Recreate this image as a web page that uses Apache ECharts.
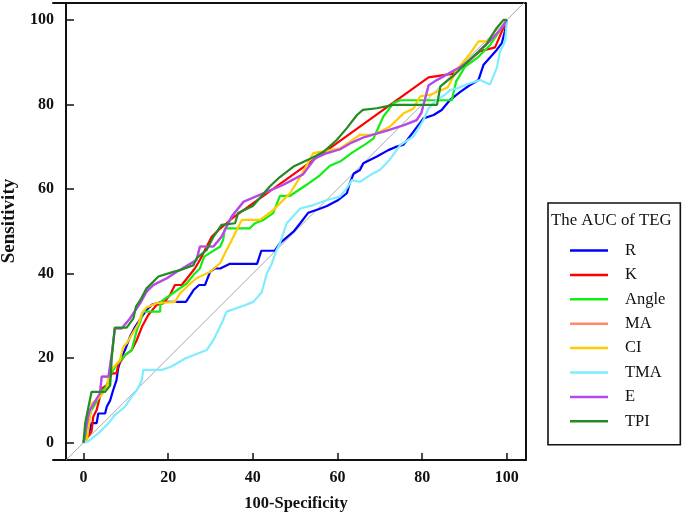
<!DOCTYPE html>
<html>
<head>
<meta charset="utf-8">
<script src="https://cdn.jsdelivr.net/npm/echarts@6/dist/echarts.min.js"></script>
<style>
html,body{margin:0;padding:0;background:#fff;}
#chart{width:684px;height:514px;}
</style>
</head>
<body>
<div id="chart"></div>
<script>
const seriesNames = ['R', 'K', 'Angle', 'MA', 'CI', 'TMA', 'E', 'TPI'];
const xTicks = [0, 20, 40, 60, 80, 100];
const yTicks = [0, 20, 40, 60, 80, 100];
const diagonal = [[-4.1, -4.1], [104.3, 104.3]];

const R = [[0,0],[1.5,3],[1.9,4.6],[3.1,4.6],[3.5,6.9],[5.1,6.9],[5.5,8.5],[6.3,10],[7,12.4],[7.8,14.8],[8.2,17.6],[9,20.3],[9.8,21.9],[11,25.1],[12.2,27.4],[13.8,29.8],[14.9,31.4],[16.1,32.6],[18.5,33.3],[24.2,33.3],[26,36.1],[27.3,37.3],[28.7,37.3],[29.9,40.4],[31,41.2],[32.3,41.2],[34.6,42.3],[41,42.3],[42,45.4],[45.2,45.4],[46.4,47.2],[49.6,49.9],[51.2,51.9],[53.1,54.4],[55.5,55.2],[57.5,56],[60.2,57.4],[62.2,59],[62.9,61.4],[63.8,63.6],[65.3,64.5],[66.1,66.1],[69.3,67.7],[72,69.2],[73.6,69.9],[75.6,70.5],[77.9,73.5],[80.3,76.7],[82.7,77.5],[84.6,78.7],[86.6,81.1],[89,83],[91.3,84.6],[93.3,85.8],[94.5,89.4],[97.6,92.9],[98.8,94.5],[99.6,97.6],[100,100]];
const K = [[0,0],[1.9,2.6],[2.3,6.1],[3.1,7.7],[3.9,10.9],[4.3,12.8],[5.5,13.6],[6.7,16.4],[7.8,16.4],[8.2,18.4],[9.8,20.7],[11.4,21.9],[12.6,24.3],[13.8,27.4],[15.3,30.2],[17.3,32.6],[18.9,33],[20.4,34.9],[21.6,37.3],[23.2,37.3],[24.8,39.3],[26.3,41.2],[27.5,43.2],[29.1,46.4],[30.3,48.7],[31.9,50.3],[33.8,51.9],[35,53],[81.5,86.4],[87.4,87.3],[93.7,92.6],[97.2,93.5],[100,100]];
const Angle = [[0,0],[0.4,0.6],[0.9,4.6],[1.9,7.7],[4.7,12.4],[5.9,14],[6.3,16],[7.8,18.4],[9.8,20.7],[11.4,21.9],[12.6,26.6],[13.4,28.6],[14.1,31],[18.1,31],[18.2,33.3],[21.6,35.7],[24.4,37.7],[26,39.7],[27.5,41.2],[28.5,44],[32.3,46.4],[33,48],[33.4,50.7],[39.3,50.7],[40.5,51.9],[42.5,52.7],[44.8,54.3],[46.4,58.4],[48.8,58.4],[52.7,61],[55.9,63.3],[58.2,65.5],[60.6,66.5],[63.3,68.5],[66.9,70.8],[68.5,72],[70.8,77.1],[73.2,80.3],[74.8,81],[87,81],[88,85.4],[90.1,88.9],[93,91],[96,94],[98,97],[100,100]];
const MA = [[0,0],[1.1,6.1],[1.5,7.7],[3.9,11.7],[4.3,15.6],[5.9,15.6],[6.7,21.1],[7.4,27],[9,27],[11,29.4],[13.4,33],[14.9,35.7],[16.5,37.3],[19.7,38.9],[22,40.4],[26.7,43.2],[27.5,46.4],[30.7,46.4],[32.6,48.7],[33.8,51.1],[35,53.5],[37.8,57],[42.5,59],[47.2,61],[51.9,63.5],[54.7,67.3],[57.5,68.5],[60.6,69.4],[63,70.8],[66.1,72.2],[71.6,73.8],[75.6,75.1],[78.7,76.3],[79.8,78],[81.5,84.5],[83.5,85.8],[85,86.6],[89,88.9],[91.3,90.5],[93.7,92.9],[96,95],[98.4,97.6],[100,100]];
const CI = [[0,0],[0.8,0.6],[1.5,5.7],[1.9,9.3],[3.5,10.5],[4.3,11.3],[5.5,12.8],[5.9,15.6],[6.7,17.4],[8.6,19.5],[9.4,22.7],[10.2,23.5],[11.8,26.2],[13,28.2],[13.8,30.6],[14.9,32],[17.3,33],[21.6,33.3],[22.8,35.3],[24.4,36.9],[26.7,38.9],[29.9,40.4],[32.3,42.5],[33.8,45.6],[35,47.9],[36.2,50.3],[37.4,52.7],[41.7,52.7],[44.8,55],[48.8,59],[51.2,62.9],[54.3,68.5],[60.6,69.6],[65.3,72.8],[68.5,72.8],[72.4,74.8],[75.6,77.9],[77.9,79],[79.5,81.9],[81.9,82.3],[86,84],[88.2,88.2],[91.3,92],[93.3,94.9],[96,94.9],[97,96],[100,100]];
const TMA = [[0,0],[1.1,0.3],[3.5,2.2],[5.9,4.6],[7.4,6.5],[9.8,8.5],[11.4,10.9],[12.6,12.4],[13.8,14.8],[14.1,17.2],[18.5,17.2],[20.8,18],[24,19.9],[29.1,21.9],[30.7,24.3],[32.6,28.2],[33.8,31],[37.8,32.4],[40.1,33.3],[42.1,35.6],[43.3,40],[44.5,42.4],[45.6,45.6],[46.4,47.2],[48,51.9],[51.2,55.4],[54.3,56.2],[57.5,57.4],[60.6,58.2],[62.2,60.2],[63.4,62.1],[65.3,61.7],[67.7,63.3],[70,64.5],[72.2,66.8],[74.8,70.4],[77.9,72.4],[80.3,76.3],[81.5,79.1],[83.5,81.1],[85.4,82.3],[86.6,83.4],[88.2,83.8],[91.3,85],[93.7,85.8],[96,84.7],[97.6,88.6],[98.4,92.6],[99.6,95],[100,100]];
const E = [[0,0],[1.1,6.1],[1.5,7.7],[3.9,11.7],[4.3,15.6],[5.9,15.6],[6.7,21.1],[7.4,27],[9,27],[11,29.4],[13.4,33],[14.9,35.7],[16.5,37.3],[19.7,38.9],[22,40.4],[26.7,43.2],[27.5,46.4],[30.7,46.4],[32.6,48.7],[33.8,51.1],[35,53.5],[37.8,57],[42.5,59],[47.2,61],[51.9,63.5],[54.7,67.3],[57.5,68.5],[60.6,69.4],[63,70.8],[66.1,72.2],[71.6,73.8],[75.6,75.1],[78.7,76.3],[79.8,78],[81.5,84.5],[83.5,85.8],[85,86.6],[89,88.9],[91.3,90.5],[93.7,92.9],[96,95],[98.4,97.6],[100,100]];
const TPI = [[0,0],[0.4,4.6],[1.1,8.1],[1.9,12],[5.1,12],[6.3,13.5],[6.7,20.3],[7.4,27.2],[10.2,27.2],[11.8,29.4],[12.4,32.2],[13.4,33.7],[14.9,36.5],[17.7,39.3],[21.2,40.4],[22.8,40.8],[26,42],[26.7,43.6],[29.1,45.6],[30.7,48.7],[32.6,51.5],[35.8,51.9],[36.5,54.3],[40,56],[44,60.6],[46,62.5],[49.6,65.3],[54.3,67.5],[56.7,68.8],[59.8,71.6],[62.2,74.4],[64.6,77.5],[66,78.7],[69.3,79.1],[73.2,79.9],[83.5,79.9],[84.3,84.3],[87.4,86.8],[92.1,91.4],[95,94],[97.6,98.1],[99.2,100],[100,100]];

const seriesData = [R, K, Angle, MA, CI, TMA, E, TPI];
const seriesColors = ['#0000ff', '#ff0000', '#11ee11', '#ff8a6a', '#ffcc00', '#80ecff', '#b048f8', '#228b22'];

const FONT = 'Liberation Serif';
const chart = echarts.init(document.getElementById('chart'), null, {renderer: 'canvas'});

const lineSeries = seriesNames.map((name, i) => ({
  name: name,
  type: 'line',
  data: seriesData[i],
  color: seriesColors[i],
  showSymbol: false,
  symbol: 'none',
  lineStyle: {width: 2.2, color: seriesColors[i]},
  animation: false,
  z: 3 + i
}));

const option = {
  backgroundColor: '#ffffff',
  animation: false,
  title: {
    text: 'The AUC of TEG',
    left: 551,
    top: 212,
    padding: 0,
    textStyle: {fontFamily: FONT, fontWeight: 'normal', fontSize: 16.8, color: '#111'}
  },
  legend: {
    data: seriesNames,
    orient: 'vertical',
    left: 548,
    top: 203,
    icon: 'rect',
    itemWidth: 38,
    itemHeight: 2.5,
    itemGap: 7.4,
    padding: [39, 15, 15, 22],
    borderColor: '#111',
    borderWidth: 1.6,
    backgroundColor: 'transparent',
    textStyle: {fontFamily: FONT, fontSize: 16.5, color: '#111', lineHeight: 16, padding: [0, 0, 0, 12]}
  },
  grid: {left: 53, right: 158.5, top: 3, bottom: 54, containLabel: false, outerBoundsMode: 'none'},
  xAxis: [{
    type: 'value',
    min: -7.2,
    max: 104.4,
    name: '100-Specificity',
    nameLocation: 'middle',
    nameGap: 35,
    nameTextStyle: {fontFamily: FONT, fontWeight: 'bold', fontSize: 16.5, color: '#111', padding: [0, 0, 0, 13.5]},
    axisLine: {onZero: false, lineStyle: {color: '#111', width: 2}},
    axisTick: {inside: true, length: 7, lineStyle: {color: '#111', width: 1.5}, customValues: xTicks},
    axisLabel: {margin: 10, fontFamily: FONT, fontWeight: 'bold', fontSize: 16, color: '#111', customValues: xTicks},
    splitLine: {show: false}
  }, {
    type: 'value',
    position: 'top',
    min: -7.2,
    max: 104.4,
    axisLine: {onZero: false, lineStyle: {color: '#111', width: 2}},
    axisTick: {show: false},
    axisLabel: {show: false},
    splitLine: {show: false}
  }],
  yAxis: [{
    type: 'value',
    min: -4.1,
    max: 104,
    offset: -13,
    name: 'Sensitivity',
    nameLocation: 'middle',
    nameGap: 47,
    nameTextStyle: {fontFamily: FONT, fontWeight: 'bold', fontSize: 19, color: '#111', padding: [0, 0, 0, 21]},
    axisLine: {onZero: false, lineStyle: {color: '#111', width: 2}},
    axisTick: {inside: true, length: 8, lineStyle: {color: '#111', width: 1.5}, customValues: yTicks},
    axisLabel: {margin: 12, fontFamily: FONT, fontWeight: 'bold', fontSize: 16, color: '#111', customValues: yTicks},
    splitLine: {show: false}
  }, {
    type: 'value',
    position: 'right',
    min: -4.1,
    max: 104,
    axisLine: {show: true, onZero: false, lineStyle: {color: '#111', width: 2}},
    axisTick: {show: false},
    axisLabel: {show: false},
    splitLine: {show: false}
  }],
  series: [{
    name: 'diagonal',
    type: 'line',
    data: diagonal,
    showSymbol: false,
    symbol: 'none',
    lineStyle: {width: 1, color: '#a8a8a8'},
    color: '#a8a8a8',
    z: 2,
    silent: true
  }].concat(lineSeries)
};
chart.setOption(option);
</script>
</body>
</html>
